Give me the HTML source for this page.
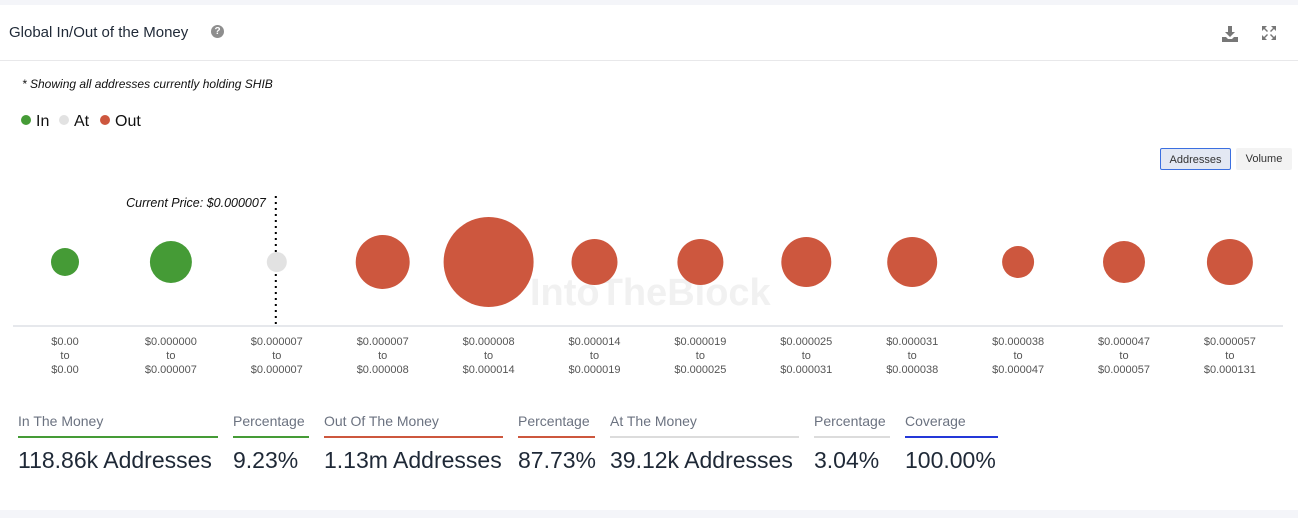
<!DOCTYPE html>
<html><head><meta charset="utf-8">
<style>
body{margin:0;width:1298px;height:518px;background:#f4f5f9;font-family:"Liberation Sans",sans-serif;overflow:hidden;position:relative}
.card{position:absolute;left:0;top:5px;width:1298px;height:505px;background:#fff}
.hdr{position:absolute;left:0;top:0;width:1298px;height:55px;border-bottom:1px solid #e8e8ea}
.title{position:absolute;left:9px;top:19px;font-size:15px;color:#1f2937}
.q{position:absolute;left:211px;top:20px;width:13px;height:13px;border-radius:50%;background:#8e8e8e;color:#fff;font-size:10px;font-weight:bold;text-align:center;line-height:13px}
.note{position:absolute;left:22px;top:72px;font-size:12px;font-style:italic;color:#111}
.leg{position:absolute;top:108px;font-size:16px;color:#111}
.dot{display:inline-block;width:10px;height:10px;border-radius:50%;margin-right:5px;vertical-align:1px}
.btn{position:absolute;top:143px;height:22px;font-size:11px;line-height:22px;text-align:center;color:#333;border-radius:2px}
.stat{position:absolute;top:408px}
.lab{font-size:14px;color:#6b7280;height:23px}
.bar{height:2px}
.val{font-size:23px;color:#1f2937;margin-top:9px;white-space:nowrap}
</style></head><body>
<div class="card">
<div class="hdr">
<div class="title">Global In/Out of the Money</div>
<div class="q">?</div>
<svg style="position:absolute;left:1221px;top:20px" width="18" height="18"><path d="M7 1h4v6h3l-5 5-5-5h3z M1 12h4l2 2h4l2-2h4v5H1z" fill="#777"/></svg>
<svg style="position:absolute;left:1261px;top:20px" width="16" height="16"><path d="M1 1h5L4 3l3 3-1 1-3-3-2 2zM15 1v5l-2-2-3 3-1-1 3-3-2-2zM1 15v-5l2 2 3-3 1 1-3 3 2 2zM15 15h-5l2-2-3-3 1-1 3 3 2-2z" fill="#777"/></svg>
</div>
<div class="note">* Showing all addresses currently holding SHIB</div>
<div class="leg" style="left:21px"><span class="dot" style="background:#459b36"></span>In</div>
<div class="leg" style="left:59px"><span class="dot" style="background:#e2e2e2"></span>At</div>
<div class="leg" style="left:100px"><span class="dot" style="background:#cd573e"></span>Out</div>
<div class="btn" style="left:1160px;width:71px;background:#e3e8f3;border:1px solid #3b6fe0;box-sizing:border-box">Addresses</div>
<div class="btn" style="left:1236px;width:56px;background:#f3f3f3">Volume</div>
<svg id="ch" style="position:absolute;left:0;top:0" width="1298" height="400"></svg>

<div class="stat" style="left:18px;width:200px"><div class="lab">In The Money</div><div class="bar" style="background:#459b36"></div><div class="val">118.86k Addresses</div></div>
<div class="stat" style="left:233px;width:76px"><div class="lab">Percentage</div><div class="bar" style="background:#459b36"></div><div class="val">9.23%</div></div>
<div class="stat" style="left:324px;width:179px"><div class="lab">Out Of The Money</div><div class="bar" style="background:#cd573e"></div><div class="val">1.13m Addresses</div></div>
<div class="stat" style="left:518px;width:77px"><div class="lab">Percentage</div><div class="bar" style="background:#cd573e"></div><div class="val">87.73%</div></div>
<div class="stat" style="left:610px;width:189px"><div class="lab">At The Money</div><div class="bar" style="background:#dcdcdc"></div><div class="val">39.12k Addresses</div></div>
<div class="stat" style="left:814px;width:76px"><div class="lab">Percentage</div><div class="bar" style="background:#dcdcdc"></div><div class="val">3.04%</div></div>
<div class="stat" style="left:905px;width:93px"><div class="lab">Coverage</div><div class="bar" style="background:#2438d8"></div><div class="val">100.00%</div></div>
</div>
<script>
const lows=["$0.00","$0.000000","$0.000007","$0.000007","$0.000008","$0.000014","$0.000019","$0.000025","$0.000031","$0.000038","$0.000047","$0.000057"];
const highs=["$0.00","$0.000007","$0.000007","$0.000008","$0.000014","$0.000019","$0.000025","$0.000031","$0.000038","$0.000047","$0.000057","$0.000131"];
const addresses=[36.6,82.3,18.7,136,378,98.7,98.7,116.6,116.6,47.8,82.3,98.7];
const status=["in","in","at","out","out","out","out","out","out","out","out","out"];
const colors={in:"#459b36",at:"#e2e2e2",out:"#cd573e"};
const svg=document.getElementById('ch');const NS="http://www.w3.org/2000/svg";
const x0=65,step=105.9,cy=257,maxR=45;
const vmax=Math.max(...addresses);
const xs=i=>x0+i*step, rs=v=>Math.sqrt(v/vmax)*maxR;
function mk(t,a){const e=document.createElementNS(NS,t);for(const k in a)e.setAttribute(k,a[k]);svg.appendChild(e);return e;}
const wm=mk('text',{x:530,y:300,'font-size':38,'font-weight':'bold',fill:'#f1f1f1'});wm.textContent='IntoTheBlock';


const ax=mk('line',{x1:13,x2:1283,y1:321,y2:321,stroke:'#ccd0d8'});


const cpI=2;
const cl=mk('line',{x1:xs(cpI)-1,x2:xs(cpI)-1,y1:191,y2:321,stroke:'#000','stroke-width':2,'stroke-dasharray':'2,4'});


const ct=mk('text',{x:xs(cpI)-11,y:202,'font-size':12.5,'font-style':'italic','text-anchor':'end',fill:'#111'});ct.textContent='Current Price: $0.000007';


addresses.forEach((v,i)=>{
 const c=mk('circle',{cx:xs(i),cy:cy,r:rs(v),fill:colors[status[i]]});
 
 
 [lows[i],'to',highs[i]].forEach((s,j)=>{
  const t=mk('text',{x:xs(i),y:340+j*14,'font-size':11,'text-anchor':'middle',fill:'#555'});t.textContent=s;
  
  
 });
});
</script>
</body></html>
